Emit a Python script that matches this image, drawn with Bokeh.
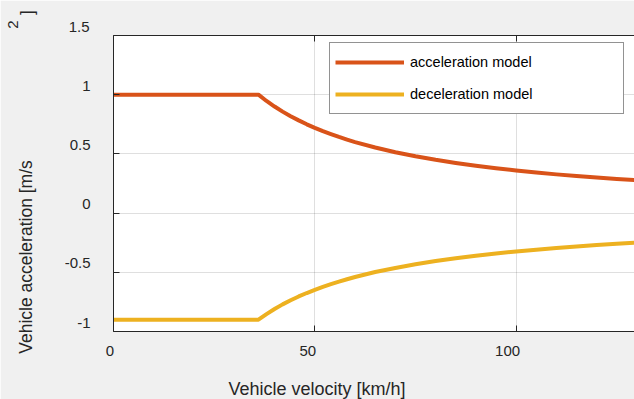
from bokeh.plotting import figure
from bokeh.models import (Range1d, FixedTicker, LinearAxis, Legend, LegendItem,
                          Label, ColumnDataSource)
from bokeh.embed import file_html
from bokeh.resources import INLINE
import math

# Vehicle velocity [km/h] and the two longitudinal acceleration limits [m/s^2]
velocity = [0, 36, 38, 40, 42, 44, 46, 48, 50, 52, 54, 56, 58, 60, 65, 70, 75, 80,
            85, 90, 95, 100, 105, 110, 115, 120, 125, 130]
accel_model = [1.0, 1.0, 0.947, 0.90, 0.857, 0.818, 0.783, 0.75, 0.72, 0.692, 0.667,
               0.643, 0.621, 0.60, 0.554, 0.514, 0.48, 0.45, 0.424, 0.40, 0.379, 0.36,
               0.343, 0.327, 0.313, 0.30, 0.288, 0.277]
decel_model = [-0.9, -0.9, -0.853, -0.81, -0.771, -0.736, -0.704, -0.675, -0.648,
               -0.623, -0.60, -0.579, -0.559, -0.54, -0.498, -0.463, -0.432, -0.405,
               -0.381, -0.36, -0.341, -0.324, -0.309, -0.295, -0.282, -0.27, -0.259,
               -0.249]

series_names = ["acceleration model", "deceleration model"]

x_ticks = [0, 50, 100]
x_tick_labels = ["0", "50", "100"]
y_ticks = [1.5, 1, 0.5, 0, -0.5, -1]
y_tick_labels = ["1.5", "1", "0.5", "0", "-0.5", "-1"]

x_title = "Vehicle velocity [km/h]"
y_title = "Vehicle acceleration [m/s"

# ---- layout -------------------------------------------------------------
W, H = 634, 399
LEFT, TOP, BOTTOM = 113, 35, 68
X0, X1 = 0, 129.4
Y0, Y1 = -1, 1.5
FONT = "Liberation Sans"
INK = "#262626"
ORANGE = "#D95319"
YELLOW = "#EDB120"

FRAME_W = W - LEFT
FRAME_H = H - TOP - BOTTOM

def px_x(px):
    """canvas pixel column -> velocity axis coordinate"""
    return X0 + (px - LEFT) * (X1 - X0) / FRAME_W

def px_y(py):
    """canvas pixel row -> acceleration axis coordinate"""
    return Y1 - (py - TOP) * (Y1 - Y0) / FRAME_H

# the y tick labels sit a little above their ticks: they are drawn by a second,
# label-only axis whose range is shifted against the main one
LAB_SHIFT_PX = 9
lab_shift = LAB_SHIFT_PX * (Y1 - Y0) / FRAME_H
lab_range = Range1d(Y0 - lab_shift, Y1 - lab_shift)
x_label_dx = [-3.5, -7, -8.5]                # tick label nudges, px

p = figure(width=W, height=H, output_backend="svg", toolbar_location=None,
           x_range=Range1d(X0, X1), y_range=Range1d(Y0, Y1),
           min_border_left=LEFT, min_border_right=0, min_border_top=TOP,
           min_border_bottom=BOTTOM)
p.border_fill_color = "#f0f0f0"
p.background_fill_color = "white"
p.outline_line_color = None
p.extra_y_ranges = {"ylab": lab_range}

src = ColumnDataSource(dict(v=velocity, a=accel_model, d=decel_model))
r_acc = p.line("v", "a", source=src, line_color=ORANGE, line_width=4, line_join="round")
r_dec = p.line("v", "d", source=src, line_color=YELLOW, line_width=4, line_join="round")

def style_axis(ax, ticks):
    ax.ticker = FixedTicker(ticks=ticks)
    ax.axis_line_color = INK
    ax.axis_line_width = 1
    ax.major_tick_line_color = INK
    ax.major_tick_in = 6
    ax.major_tick_out = 0
    ax.minor_tick_line_color = None
    ax.major_label_overrides = {t: "" for t in ticks}
    ax.major_label_standoff = 0
    ax.axis_label = None

style_axis(p.xaxis[0], x_ticks)
style_axis(p.yaxis[0], y_ticks)
top_axis = LinearAxis()
style_axis(top_axis, x_ticks)
p.add_layout(top_axis, "above")

# label-only y axis for the ticks inside its shifted range
in_range = [(t, s) for t, s in zip(y_ticks, y_tick_labels)
            if lab_range.start <= t <= lab_range.end]
outside = [(t, s) for t, s in zip(y_ticks, y_tick_labels)
           if not lab_range.start <= t <= lab_range.end]
ylab_axis = LinearAxis(y_range_name="ylab",
                       ticker=FixedTicker(ticks=[t for t, _ in in_range]),
                       major_label_overrides=dict(in_range),
                       axis_line_color=None, major_tick_line_color=None,
                       minor_tick_line_color=None, major_tick_in=0, major_tick_out=0,
                       major_label_standoff=23, major_label_text_font=FONT,
                       major_label_text_font_size="15px",
                       major_label_text_color=INK, axis_label=None)
p.add_layout(ylab_axis, "left")

for g in (p.xgrid[0], p.ygrid[0]):
    g.grid_line_color = INK
    g.grid_line_alpha = 0.15
    g.grid_line_width = 1
p.xgrid[0].ticker = FixedTicker(ticks=x_ticks)
p.ygrid[0].ticker = FixedTicker(ticks=y_ticks)

def text_label(side, **kw):
    kw.setdefault("text_font", FONT)
    kw.setdefault("text_color", INK)
    p.add_layout(Label(x_units="data", y_units="data", **kw), side)

# the top y tick label lies above the frame, so it is placed on its own
for val, txt in outside:
    text_label("left", x=px_x(89), y=val, y_offset=LAB_SHIFT_PX, text=txt,
               text_align="right", text_baseline="middle", text_font_size="15px")

# x tick labels
for val, txt, dx in zip(x_ticks, x_tick_labels, x_label_dx):
    text_label("below", x=val, y=px_y(350), x_offset=dx, text=txt, text_align="center",
               text_baseline="middle", text_font_size="15px")

# axis titles
text_label("below", x=px_x(316.5), y=px_y(388), text=x_title, text_align="center",
           text_baseline="middle", text_font_size="18px")
text_label("left", x=px_x(25), y=px_y(256.5), text=y_title, angle=math.pi / 2,
           text_align="center", text_baseline="middle", text_font_size="17.5px")
text_label("above", x=px_x(12), y=px_y(24), text="2", angle=math.pi / 2,
           text_align="center", text_baseline="middle", text_font_size="15px")
text_label("above", x=px_x(26), y=px_y(12), text="]", angle=math.pi / 2,
           text_align="center", text_baseline="middle", text_font_size="17.5px")

legend = Legend(items=[LegendItem(label=series_names[0], renderers=[r_acc]),
                       LegendItem(label=series_names[1], renderers=[r_dec])],
                location=(216, 217), padding=5, spacing=4, margin=0,
                glyph_width=69, glyph_height=28, label_height=16, label_width=208,
                label_standoff=6, label_text_font=FONT, label_text_font_size="14.5px",
                label_text_color="black",
                border_line_color=INK, border_line_width=1,
                background_fill_color="white", background_fill_alpha=1)
p.add_layout(legend)

open("out.html", "w").write(file_html(p, INLINE))
